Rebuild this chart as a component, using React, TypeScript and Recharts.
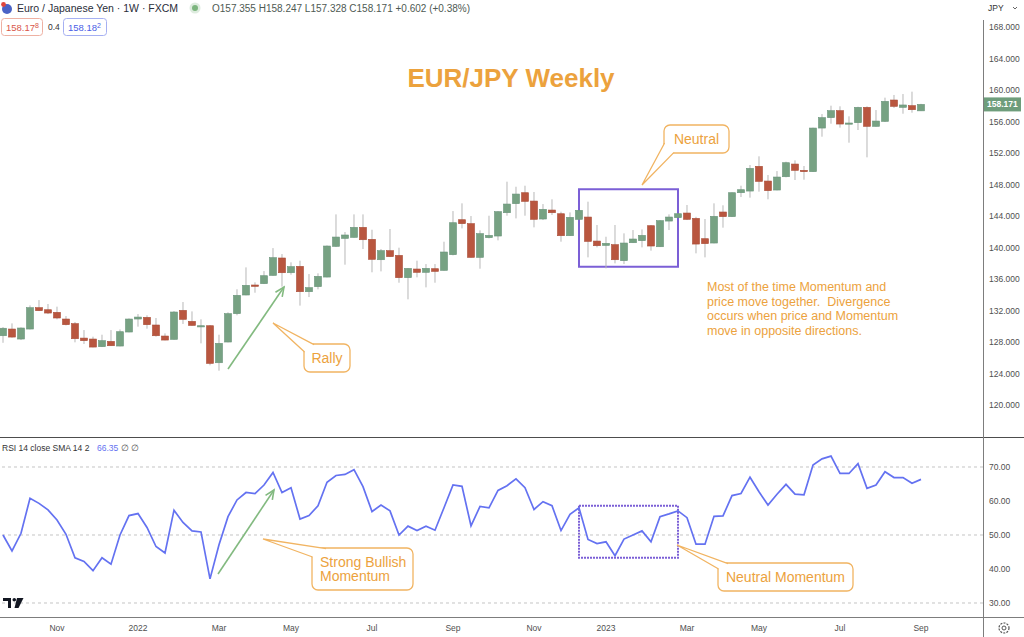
import React from "react";
import { ComposedChart, Bar, Line, XAxis, YAxis, ReferenceLine, ReferenceArea } from "recharts";

// weekly EUR/JPY candles, Sep 20 2021 .. Sep 4 2023 (index = week number)
const openP = [
  128.8, 129.65, 128.38, 129.65, 132.36, 132.1, 131.77, 130.92, 130.33, 128.5,
  128.38, 127.41, 128.08, 127.49, 129.27, 130.92, 131.13, 130.16, 128.76, 128.34,
  132.02, 130.62, 130.03, 130.07, 125.37, 128.0, 131.6, 133.97, 135.24, 135.41,
  136.46, 138.67, 136.8, 137.61, 134.39, 135.03, 136.25, 140.15, 141.16, 141.29,
  142.56, 141.04, 138.45, 139.6, 139.0, 136.17, 137.27, 136.85, 137.31, 137.1,
  139.09, 143.53, 143.03, 138.75, 141.25, 141.46, 144.42, 145.57, 146.96, 145.9,
  143.62, 144.76, 144.29, 141.5, 143.58, 143.87, 140.82, 140.27, 140.36, 138.33,
  140.61, 140.87, 142.77, 140.1, 143.36, 143.79, 144.38, 143.7, 141.12, 140.57,
  144.51, 143.92, 146.96, 147.17, 150.31, 148.44, 147.3, 148.99, 150.6, 149.8,
  149.63, 155.17, 156.49, 157.38, 155.72, 155.85, 157.8, 155.39, 156.02, 158.73,
  157.8, 158.01, 157.355,
];
const highP = [
  129.9, 130.37, 129.86, 132.65, 133.33, 132.83, 132.49, 131.3, 130.54, 129.52,
  128.68, 128.93, 129.52, 129.6, 131.0, 131.55, 131.39, 131.05, 129.1, 131.93,
  133.08, 131.89, 130.88, 130.16, 128.93, 131.77, 134.7, 137.48, 135.58, 137.01,
  139.93, 139.17, 138.12, 138.33, 136.63, 136.72, 140.27, 144.21, 141.97, 144.21,
  144.21, 142.26, 139.81, 142.35, 139.98, 137.4, 138.33, 137.9, 137.9, 140.74,
  144.63, 145.61, 144.0, 142.18, 144.04, 144.63, 148.36, 147.72, 147.85, 147.05,
  145.52, 146.12, 144.55, 144.46, 144.76, 145.82, 142.86, 141.37, 142.86, 141.8,
  142.22, 142.3, 142.86, 143.49, 144.21, 144.34, 145.4, 143.9, 143.62, 145.61,
  145.36, 147.0, 147.85, 150.48, 151.58, 149.21, 149.71, 150.9, 151.07, 150.35,
  155.22, 156.95, 158.01, 157.93, 156.66, 157.88, 157.93, 157.46, 159.03, 159.37,
  159.49, 159.79, 158.247,
];
const lowP = [
  127.9, 128.55, 128.25, 129.6, 131.93, 131.55, 130.88, 130.11, 127.96, 127.75,
  127.32, 127.36, 127.49, 127.45, 129.23, 129.95, 129.69, 128.68, 128.21, 128.3,
  130.29, 130.07, 127.83, 125.04, 124.36, 127.96, 131.39, 133.93, 134.26, 135.36,
  136.42, 135.03, 136.55, 132.62, 133.71, 134.69, 136.21, 140.06, 137.82, 141.25,
  139.81, 136.85, 136.97, 138.79, 135.53, 133.42, 136.21, 134.94, 135.53, 137.06,
  139.0, 142.43, 138.71, 137.31, 141.16, 140.91, 144.04, 143.7, 144.04, 142.56,
  143.49, 144.13, 140.74, 141.46, 143.49, 138.75, 140.02, 137.35, 137.99, 137.9,
  140.57, 140.02, 139.6, 140.06, 142.22, 143.74, 143.49, 139.26, 138.75, 140.53,
  142.52, 143.87, 146.41, 146.33, 147.09, 146.12, 147.26, 148.91, 148.57, 148.61,
  149.59, 154.07, 155.72, 155.22, 153.31, 154.92, 151.45, 155.34, 155.94, 157.72,
  156.99, 157.12, 157.328,
];
const closeP = [
  129.75, 128.63, 129.78, 132.36, 131.98, 131.68, 131.05, 130.2, 128.42, 128.17,
  127.36, 128.17, 127.53, 129.31, 130.92, 131.17, 130.2, 128.8, 128.25, 131.81,
  130.88, 130.11, 130.07, 125.29, 127.83, 131.6, 133.93, 135.2, 135.07, 136.42,
  138.71, 136.8, 137.57, 134.39, 134.9, 136.34, 140.19, 141.33, 141.59, 142.56,
  140.99, 138.5, 139.6, 138.84, 136.17, 137.35, 136.85, 137.35, 136.97, 139.43,
  143.15, 143.03, 138.75, 141.76, 141.54, 144.55, 145.52, 146.79, 145.86, 143.58,
  144.85, 144.42, 141.5, 143.83, 144.72, 140.78, 140.23, 140.53, 138.45, 140.57,
  141.08, 141.54, 140.19, 143.41, 143.87, 144.29, 143.58, 140.44, 140.49, 143.96,
  143.92, 146.96, 147.34, 150.05, 148.4, 147.22, 148.95, 150.77, 149.8, 149.63,
  155.17, 156.49, 157.38, 155.68, 155.81, 157.8, 155.39, 156.06, 158.56, 157.93,
  158.1, 157.5, 158.171,
];
const rsi14 = [
  50.0, 45.3, 50.5, 60.8, 59.3, 57.4, 54.4, 50.2, 43.3, 42.2,
  39.5, 43.3, 41.4, 50.0, 55.7, 56.3, 52.2, 46.6, 44.7, 57.3,
  53.7, 51.2, 50.9, 37.1, 47.1, 55.4, 60.3, 62.5, 62.2, 64.7,
  68.4, 62.5, 63.9, 54.7, 55.7, 58.6, 65.5, 67.5, 67.8, 69.2,
  64.2, 56.9, 58.8, 57.1, 50.0, 52.6, 51.3, 52.6, 51.4, 58.0,
  64.7, 64.3, 52.7, 58.4, 58.0, 63.1, 64.5, 66.5, 63.9, 57.5,
  59.8, 58.6, 51.3, 56.1, 58.0, 48.7, 47.5, 48.0, 43.9, 48.8,
  50.0, 51.2, 48.0, 55.4, 56.2, 57.1, 55.1, 47.3, 47.3, 55.5,
  55.6, 61.6, 62.2, 67.0, 62.7, 58.8, 62.0, 64.9, 62.0, 61.8,
  70.6, 72.4, 73.2, 68.1, 68.1, 71.0, 63.7, 64.7, 68.6, 66.9,
  66.9, 65.2, 66.35,
];

const priceTicks = [120, 124, 128, 132, 136, 140, 144, 148, 152, 156, 160, 164, 168];
const rsiTicks = [30, 40, 50, 60, 70];
const rsiGuides = [70, 50, 30];
const monthTicks = [6, 15, 24, 32, 41, 50, 59, 67, 76, 84, 93, 102];
const monthLabels = ["Nov", "2022", "Mar", "May", "Jul", "Sep", "Nov", "2023", "Mar", "May", "Jul", "Sep"];

// annotations (data coordinates)
const neutralWeeks = [64, 75];
const neutralPriceBox = [137.56, 147.39];
const neutralRsiBox = [43.3, 58.6];
const rallyArrow = [{ x: 25, y: 124.57 }, { x: 31.22, y: 134.98 }];
const rsiArrow = [{ x: 23.89, y: 38.53 }, { x: 30.11, y: 63.24 }];
const noteLines = [
  "Most of the time Momentum and",
  "price move together.  Divergence",
  "occurs when price and Momentum",
  "move in opposite directions.",
];

const X_DOMAIN = [-1 / 3, 108.889];
const PRICE_DOMAIN = [115.94, 171.43];
const RSI_DOMAIN = [25.88, 78.82];

const FONT = '"Liberation Sans", Arial, sans-serif';
const ORANGE = "#eca23d";
const UP = "#77a283";
const DOWN = "#b9563f";
const WICK = "#b8b8b8";
const PURPLE = "#7b5fd6";
const RSI_BLUE = "#6472f1";
const ARROW = "#83ba80";
const AXIS_TEXT = "#4f4f4f";

const candles = openP.map((o, k) => ({
  i: k,
  open: o,
  high: highP[k],
  low: lowP[k],
  close: closeP[k],
  range: [lowP[k], highP[k]],
}));
const rsiData = rsi14.map((v, k) => ({ i: k, rsi: v }));
const lastClose = closeP[closeP.length - 1];

const Candle = (props: any) => {
  const { x, y, width, height, payload } = props;
  if (!payload || x == null || y == null) return null;
  const top = Math.min(y, y + height);
  const h = Math.abs(height);
  const { open, close, high, low } = payload;
  const span = high - low || 1;
  const py = (v: number) => top + ((high - v) / span) * h;
  const cx = x + width / 2;
  const yo = py(open);
  const yc = py(close);
  const up = close >= open;
  return (
    <g>
      <line x1={cx} x2={cx} y1={top} y2={top + h} stroke={WICK} strokeWidth={1} />
      <rect
        x={x}
        y={Math.min(yo, yc)}
        width={width}
        height={Math.max(Math.abs(yc - yo), 1.2)}
        fill={up ? UP : DOWN}
        stroke={up ? "#69937a" : "#a94d38"}
        strokeWidth={0.6}
      />
    </g>
  );
};

const ArrowShape = (p: any) => {
  const { x1, y1, x2, y2 } = p;
  if (x1 == null) return null;
  const a = Math.atan2(y2 - y1, x2 - x1);
  const L = 10;
  const s = 0.42;
  const ax = x2 - L * Math.cos(a - s);
  const ay = y2 - L * Math.sin(a - s);
  const bx = x2 - L * Math.cos(a + s);
  const by = y2 - L * Math.sin(a + s);
  return (
    <g>
      <line x1={x1} y1={y1} x2={x2} y2={y2} stroke={ARROW} strokeWidth={1.6} />
      <polyline points={`${ax},${ay} ${x2},${y2} ${bx},${by}`} fill="none" stroke={ARROW} strokeWidth={1.6} />
    </g>
  );
};

const PriceTag = (p: any) => {
  const vb = p.viewBox;
  if (!vb) return null;
  const x = vb.x + vb.width;
  return (
    <g>
      <rect x={x} y={vb.y - 7} width={38} height={14} fill="#6e9d7b" />
      <text x={x + 4} y={vb.y} dominantBaseline="central" fontSize={8.5} fontWeight="bold" fill="#fff" fontFamily={FONT}>
        {lastClose.toFixed(3)}
      </text>
    </g>
  );
};

function Callout({ box, tail, lines, align = "middle" }: any) {
  const [x, y, w, h] = box;
  const [b1, tip, b2] = tail;
  const lh = 14;
  const startY = y + h / 2 - ((lines.length - 1) * lh) / 2;
  return (
    <g>
      <rect x={x} y={y} width={w} height={h} rx={6} fill="#fff" stroke="#f1b462" strokeWidth={1.3} />
      <path d={`M${b1[0]},${b1[1]} L${tip[0]},${tip[1]} L${b2[0]},${b2[1]} Z`} fill="#fff" stroke="none" />
      <polyline points={`${b1[0]},${b1[1]} ${tip[0]},${tip[1]} ${b2[0]},${b2[1]}`} fill="none" stroke="#f1b462" strokeWidth={1.3} />
      {lines.map((t: string, k: number) => (
        <text
          key={k}
          x={align === "start" ? x + 8 : x + w / 2}
          y={startY + k * lh}
          textAnchor={align}
          dominantBaseline="central"
          fontSize={14}
          fill={ORANGE}
          fontFamily={FONT}
        >
          {t}
        </text>
      ))}
    </g>
  );
}

export default function App() {
  return (
    <div style={{ position: "absolute", left: 0, top: 0, width: 1024, height: 637, background: "#fff", overflow: "hidden", fontFamily: FONT }}>
      <div style={{ position: "absolute", left: 0, top: 0 }}>
        <ComposedChart width={1024} height={437} data={candles} margin={{ top: 0, right: 0, left: 0, bottom: 0 }}>
          <XAxis dataKey="i" type="number" domain={X_DOMAIN} allowDataOverflow hide />
          <YAxis
            orientation="right"
            width={41}
            domain={PRICE_DOMAIN}
            allowDataOverflow
            ticks={priceTicks}
            tickFormatter={(v: number) => v.toFixed(3)}
            axisLine={false}
            tickLine={false}
            tickMargin={0}
            tick={{ fontSize: 8.5, fill: AXIS_TEXT, fontFamily: FONT }}
          />
          <Bar dataKey="range" barSize={7} shape={Candle} isAnimationActive={false} />
          <ReferenceArea
            x1={neutralWeeks[0]}
            x2={neutralWeeks[1]}
            y1={neutralPriceBox[0]}
            y2={neutralPriceBox[1]}
            fill="none"
            fillOpacity={0}
            stroke={PURPLE}
            strokeWidth={2}
          />
          <ReferenceLine segment={rallyArrow} shape={ArrowShape} />
          <ReferenceLine y={lastClose} stroke="none" label={{ content: (p: any) => <PriceTag {...p} /> }} />
        </ComposedChart>
      </div>
      <div style={{ position: "absolute", left: 0, top: 437 }}>
        <ComposedChart width={1024} height={200} data={rsiData} margin={{ top: 0, right: 0, left: 0, bottom: 0 }}>
          <XAxis
            dataKey="i"
            type="number"
            domain={X_DOMAIN}
            allowDataOverflow
            ticks={monthTicks}
            tickFormatter={(v: number) => monthLabels[monthTicks.indexOf(v)] ?? ""}
            height={20}
            axisLine={false}
            tickLine={false}
            tick={{ fontSize: 8.5, fill: AXIS_TEXT, fontFamily: FONT }}
            interval={0}
          />
          <YAxis
            orientation="right"
            width={41}
            domain={RSI_DOMAIN}
            allowDataOverflow
            ticks={rsiTicks}
            tickFormatter={(v: number) => v.toFixed(2)}
            axisLine={false}
            tickLine={false}
            tickMargin={0}
            tick={{ fontSize: 8.5, fill: AXIS_TEXT, fontFamily: FONT }}
          />
          {rsiGuides.map((g) => (
            <ReferenceLine key={g} y={g} stroke="#c4c4c4" strokeDasharray="3 3" />
          ))}
          <ReferenceArea
            x1={neutralWeeks[0]}
            x2={neutralWeeks[1]}
            y1={neutralRsiBox[0]}
            y2={neutralRsiBox[1]}
            fill="none"
            fillOpacity={0}
            stroke={PURPLE}
            strokeWidth={2}
            strokeDasharray="2 1"
          />
          <Line dataKey="rsi" type="linear" stroke={RSI_BLUE} strokeWidth={1.7} dot={false} isAnimationActive={false} />
          <ReferenceLine segment={rsiArrow} shape={ArrowShape} />
        </ComposedChart>
      </div>

      <svg width={1024} height={637} style={{ position: "absolute", left: 0, top: 0, pointerEvents: "none" }} fontFamily={FONT}>
        {/* pane borders */}
        <line x1={0} x2={1024} y1={437.5} y2={437.5} stroke="#4d4d4d" strokeWidth={1.2} />
        <line x1={0} x2={1024} y1={617.5} y2={617.5} stroke="#7d7d7d" strokeWidth={1} />
        <line x1={983.5} x2={983.5} y1={20} y2={637} stroke="#7d7d7d" strokeWidth={1} />

        {/* header */}
        <circle cx={7} cy={9} r={5} fill="#4a63c6" />
        <circle cx={3.5} cy={4.5} r={2.4} fill="#e0463c" />
        <text x={17} y={8} dominantBaseline="central" fontSize={10.5} fill="#2a2e39">
          Euro / Japanese Yen · 1W · FXCM
        </text>
        <circle cx={195} cy={8} r={5.5} fill="#7cb57e" opacity={0.25} />
        <circle cx={195} cy={8} r={3} fill="#7cb57e" />
        <text x={212} y={8} dominantBaseline="central" fontSize={10} fill="#4e5a53">
          O157.355 H158.247 L157.328 C158.171 +0.602 (+0.38%)
        </text>
        <rect x={1.5} y={18.5} width={41} height={17} rx={3} fill="#fff" stroke="#eeb1a3" />
        <text x={6} y={27} dominantBaseline="central" fontSize={9.5} fill="#d9574a">
          158.17<tspan fontSize={7} dy={-2}>8</tspan>
        </text>
        <text x={48} y={27} dominantBaseline="central" fontSize={8.5} fill="#333">0.4</text>
        <rect x={63.5} y={18.5} width={43} height={17} rx={3} fill="#fff" stroke="#a6b0f2" />
        <text x={68} y={27} dominantBaseline="central" fontSize={9.5} fill="#4b5ee6">
          158.18<tspan fontSize={7} dy={-2}>2</tspan>
        </text>
        <text x={988} y={8} dominantBaseline="central" fontSize={8.5} fill="#333">JPY</text>
        <polyline points="1013,7 1015,9 1017,7" fill="none" stroke="#555" strokeWidth={0.9} />

        {/* title & note */}
        <text x={511} y={78} textAnchor="middle" dominantBaseline="central" fontSize={26} fontWeight="bold" fill={ORANGE}>
          EUR/JPY Weekly
        </text>
        {noteLines.map((t, k) => (
          <text key={k} x={707} y={287 + k * 14.5} dominantBaseline="central" fontSize={12.5} fill={ORANGE} style={{ whiteSpace: "pre" }}>
            {t}
          </text>
        ))}

        {/* callouts */}
        <Callout box={[664, 125, 65, 28]} tail={[[664.6, 143], [642, 185], [674, 152.4]]} lines={["Neutral"]} />
        <Callout box={[304, 344, 46, 28]} tail={[[304.6, 352], [273, 323], [314, 344.6]]} lines={["Rally"]} />
        <Callout box={[312, 548, 101, 42]} tail={[[312.6, 557], [263, 539], [326, 548.6]]} lines={["Strong Bullish", "Momentum"]} align="start" />
        <Callout box={[718, 563, 135, 28]} tail={[[718.6, 569], [677, 545], [728, 563.6]]} lines={["Neutral Momentum"]} />

        {/* RSI legend */}
        <text x={2} y={448} dominantBaseline="central" fontSize={8.5} fill="#333">RSI 14 close SMA 14 2</text>
        <text x={97} y={448} dominantBaseline="central" fontSize={8.5} fill={RSI_BLUE}>
          {rsi14[rsi14.length - 1].toFixed(2)}
        </text>
        <text x={121} y={448} dominantBaseline="central" fontSize={8.5} fill="#555">∅  ∅</text>

        {/* logo & settings */}
        <g fill="#131722">
          <rect x={3} y={598} width={8} height={3} />
          <rect x={8} y={598} width={3} height={10} />
          <circle cx={14.3} cy={599.8} r={1.8} />
          <polygon points="17,598 23.5,598 18.5,608 14.5,608" />
        </g>
        <circle cx={1004} cy={628} r={5} fill="none" stroke="#555" strokeWidth={1.2} strokeDasharray="2 1.2" />
        <circle cx={1004} cy={628} r={2} fill="none" stroke="#555" strokeWidth={1} />
      </svg>
    </div>
  );
}
